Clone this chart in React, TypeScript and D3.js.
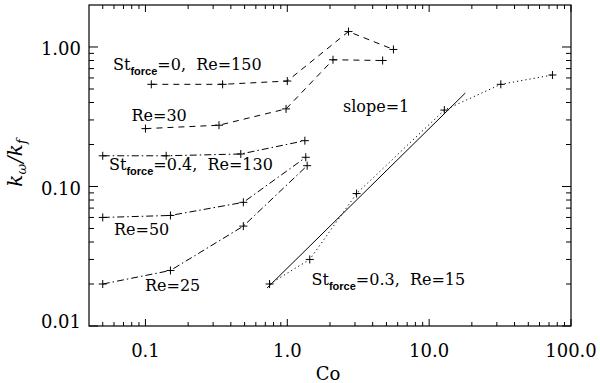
import React from 'react';
import * as d3 from 'd3';

// x axis: Co, y axis: k_omega / k_f
const xTickValues = [0.1, 1, 10, 100];
const xTickLabels = ['0.1', '1.0', '10.0', '100.0'];
const yTickValues = [0.01, 0.1, 1];
const yTickLabels = ['0.01', '0.10', '1.00'];

// St_force = 0, Re = 150 (dashed)
const coRe150 = [0.11, 0.35, 1.0, 2.7, 5.6];
const kRe150 = [0.54, 0.54, 0.57, 1.29, 0.96];
// St_force = 0, Re = 30 (dashed)
const coRe30 = [0.1, 0.33, 0.98, 2.1, 4.7];
const kRe30 = [0.26, 0.275, 0.36, 0.81, 0.8];
// St_force = 0.4, Re = 130 (dash-dot)
const coRe130 = [0.05, 0.14, 0.47, 1.33];
const kRe130 = [0.166, 0.166, 0.171, 0.213];
// St_force = 0.4, Re = 50 (dash-dot)
const coRe50 = [0.05, 0.15, 0.49, 1.35];
const kRe50 = [0.06, 0.062, 0.077, 0.162];
// St_force = 0.4, Re = 25 (dash-dot)
const coRe25 = [0.05, 0.15, 0.49, 1.38];
const kRe25 = [0.02, 0.025, 0.052, 0.141];
// St_force = 0.3, Re = 15 (dotted)
const coRe15 = [0.75, 1.44, 3.08, 12.8, 32, 74];
const kRe15 = [0.02, 0.03, 0.089, 0.353, 0.54, 0.63];
// slope = 1 reference line (solid)
const coSlope = [0.72, 18];
const kSlope = [0.0187, 0.468];

const zip = (a: number[], b: number[]) => a.map((v, i) => [v, b[i]] as [number, number]);

const series = [
  { pts: zip(coRe150, kRe150), dash: '6,5', marks: true },
  { pts: zip(coRe30, kRe30), dash: '6,5', marks: true },
  { pts: zip(coRe130, kRe130), dash: '7,3,1.5,3', marks: true },
  { pts: zip(coRe50, kRe50), dash: '7,3,1.5,3', marks: true },
  { pts: zip(coRe25, kRe25), dash: '7,3,1.5,3', marks: true },
  { pts: zip(coRe15, kRe15), dash: '1.2,3', marks: true },
  { pts: zip(coSlope, kSlope), dash: undefined, marks: false },
];

const SERIF = 'DejaVu Serif';
const SUBFONT = 'Liberation Sans';

function StLabel({ x, y, st, re }: { x: number; y: number; st: string; re: string }) {
  return (
    <text x={x} y={y} fontFamily={SERIF} fontSize={16} fill="#000" style={{ whiteSpace: 'pre' }}>
      St
      <tspan fontFamily={SUBFONT} fontWeight="bold" fontSize={11} dy={5}>force</tspan>
      <tspan dy={-5}>{`=${st},  Re=${re}`}</tspan>
    </text>
  );
}

export default function App() {
  const W = 600, H = 383;
  const L = 89, R = 571, T = 5, B = 326;
  const x = d3.scaleLog().domain([0.04, 100]).range([L, R]);
  const y = d3.scaleLog().domain([0.01, 2]).range([B, T]);
  const line = d3.line<[number, number]>().x(d => x(d[0])).y(d => y(d[1]));

  const xMinor: number[] = [];
  [0.01, 0.1, 1, 10].forEach(dec => {
    for (let m = 2; m <= 9; m++) {
      const v = dec * m;
      if (v > 0.04 && v < 100) xMinor.push(v);
    }
  });
  const yMinor: number[] = [];
  [0.01, 0.1, 1].forEach(dec => {
    for (let m = 2; m <= 9; m++) {
      const v = dec * m;
      if (v > 0.01 && v < 2) yMinor.push(v);
    }
  });

  const xMaj = 7, xMin = 4, yMaj = 9, yMin = 5;
  const tickPaths: string[] = [];
  xTickValues.forEach(v => {
    const px = x(v);
    tickPaths.push(`M${px},${B}v${-xMaj}M${px},${T}v${xMaj}`);
  });
  xMinor.forEach(v => {
    const px = x(v);
    tickPaths.push(`M${px},${B}v${-xMin}M${px},${T}v${xMin}`);
  });
  yTickValues.forEach(v => {
    const py = y(v);
    tickPaths.push(`M${L},${py}h${yMaj}M${R},${py}h${-yMaj}`);
  });
  yMinor.forEach(v => {
    const py = y(v);
    tickPaths.push(`M${L},${py}h${yMin}M${R},${py}h${-yMin}`);
  });

  return (
    <svg width={W} height={H} style={{ position: 'absolute', left: 0, top: 0, background: '#fff' }}>
      <rect x={0} y={0} width={W} height={H} fill="#fff" />
      {series.map((s, i) => (
        <g key={i}>
          <path d={line(s.pts) || ''} fill="none" stroke="#000" strokeWidth={1} strokeDasharray={s.dash} />
          {s.marks &&
            s.pts.map((p, j) => (
              <path key={j} d={`M${x(p[0]) - 4},${y(p[1])}h8M${x(p[0])},${y(p[1]) - 4}v8`} stroke="#000" strokeWidth={1} />
            ))}
        </g>
      ))}
      <rect x={L} y={T} width={R - L} height={B - T} fill="none" stroke="#000" strokeWidth={1.2} />
      <path d={tickPaths.join('')} stroke="#000" strokeWidth={1} fill="none" />
      {xTickValues.map((v, i) => (
        <text key={i} x={x(v)} y={356.5} textAnchor="middle" fontFamily={SERIF} fontSize={18} fill="#000">
          {xTickLabels[i]}
        </text>
      ))}
      {yTickValues.map((v, i) => (
        <text key={i} x={L - 8} y={y(v) + (i === 0 ? 2 : 8.5)} textAnchor="end" fontFamily={SERIF} fontSize={18} fill="#000">
          {yTickLabels[i]}
        </text>
      ))}
      <text x={328} y={380} textAnchor="middle" fontFamily={SERIF} fontSize={18} fill="#000">Co</text>
      <text transform="translate(22,163) rotate(-90)" textAnchor="middle" fontFamily={SERIF} fontStyle="italic" fontSize={20} fill="#000">
        k<tspan fontSize={13} dy={4}>ω</tspan>
        <tspan dy={-4} dx={1}>/k</tspan>
        <tspan fontSize={13} dy={4}>f</tspan>
      </text>
      <StLabel x={113} y={70} st="0" re="150" />
      <text x={131.5} y={120.7} fontFamily={SERIF} fontSize={16} fill="#000">Re=30</text>
      <StLabel x={109} y={170} st="0.4" re="130" />
      <text x={114} y={235} fontFamily={SERIF} fontSize={16} fill="#000">Re=50</text>
      <text x={145} y={291} fontFamily={SERIF} fontSize={16} fill="#000">Re=25</text>
      <text x={343} y={111.7} fontFamily={SERIF} fontSize={16} fill="#000">slope=1</text>
      <StLabel x={311.5} y={285} st="0.3" re="15" />
    </svg>
  );
}
